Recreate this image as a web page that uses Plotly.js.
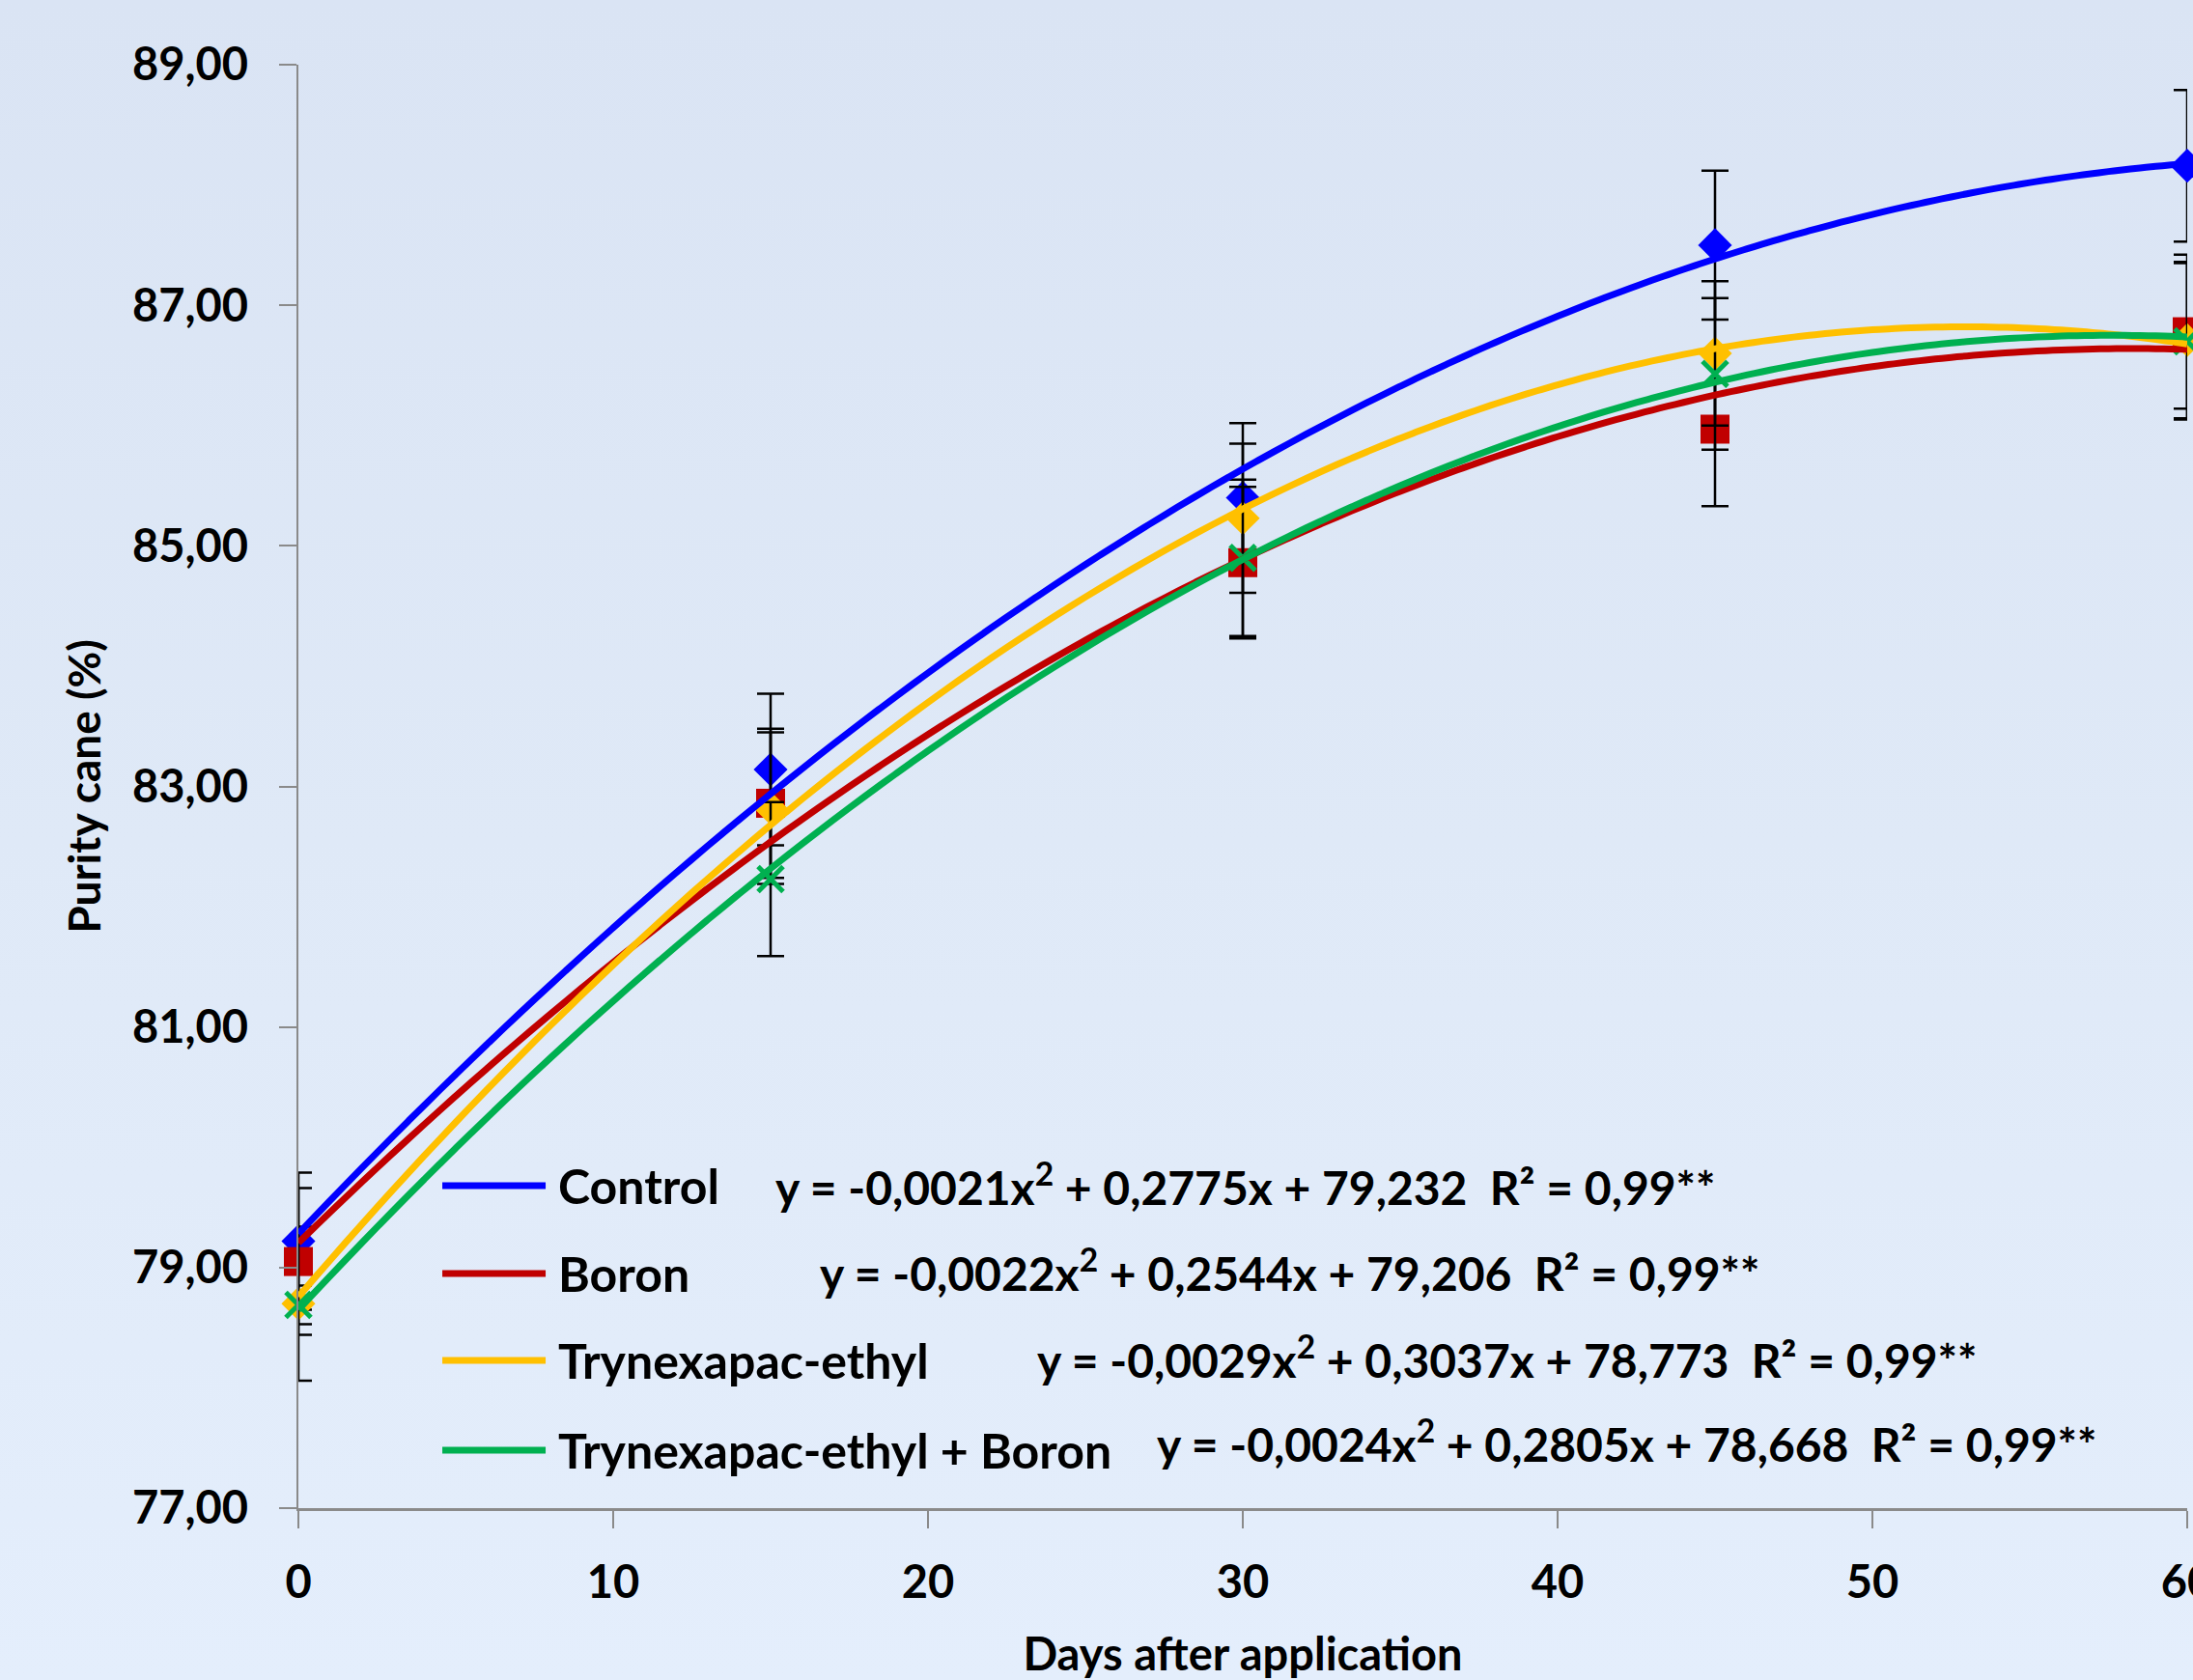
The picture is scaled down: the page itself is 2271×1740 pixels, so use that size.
<!DOCTYPE html>
<html>
<head>
<meta charset="utf-8">
<script src="https://cdn.plot.ly/plotly-3.0.1.min.js"></script>
<style>
  html, body { margin: 0; padding: 0; }
  body { width: 2271px; height: 1740px; overflow: hidden;
         background: linear-gradient(180deg, #dae4f4 0%, #dfe9f7 50%, #e4eefc 100%); }
  #chart { width: 2271px; height: 1740px; }
</style>
</head>
<body>
<div id="chart"></div>
<script>
// ---------------- DATA ----------------
const days = [0, 15, 30, 45, 60];
const seriesNames = ['Control', 'Boron', 'Trynexapac-ethyl', 'Trynexapac-ethyl + Boron'];

const controlValues = [79.22, 83.14, 85.40, 87.50, 88.16];
const controlErrors = [0.57, 0.63, 0.62, 0.62, 0.63];

const boronValues = [79.05, 82.86, 84.86, 85.97, 86.78];
const boronErrors = [0.61, 0.62, 0.63, 0.64, 0.64];

const trynValues = [78.70, 82.82, 85.23, 86.60, 86.71];
const trynErrors = [0.64, 0.63, 0.62, 0.60, 0.65];

const trynBoronValues = [78.69, 82.23, 84.90, 86.43, 86.70];
const trynBoronErrors = [0.16, 0.64, 0.65, 0.63, 0.65];

const equationLabels = [
  'y = -0,0021x<sup>2</sup> + 0,2775x + 79,232\u00a0\u00a0R² = 0,99**',
  'y = -0,0022x<sup>2</sup> + 0,2544x + 79,206\u00a0\u00a0R² = 0,99**',
  'y = -0,0029x<sup>2</sup> + 0,3037x + 78,773\u00a0\u00a0R² = 0,99**',
  'y = -0,0024x<sup>2</sup> + 0,2805x + 78,668\u00a0\u00a0R² = 0,99**'
];

const xTicks = [0, 10, 20, 30, 40, 50, 60];
const yTicks = [77, 79, 81, 83, 85, 87, 89];

// ---------------- STYLE ----------------
const colors = ['#0000ff', '#c00000', '#ffc000', '#00b050'];
const symbols = ['diamond', 'square', 'diamond', 'x-thin'];
const sizes = [27, 30, 27, 26];

const values = [controlValues, boronValues, trynValues, trynBoronValues];
const errors = [controlErrors, boronErrors, trynErrors, trynBoronErrors];

// Quadratic least-squares fit (like a spreadsheet polynomial trendline)
function quadFit(xs, ys) {
  let s = [0, 0, 0, 0, 0], t = [0, 0, 0];
  for (let i = 0; i < xs.length; i++) {
    let p = 1;
    for (let k = 0; k < 5; k++) { s[k] += p; p *= xs[i]; }
    p = 1;
    for (let k = 0; k < 3; k++) { t[k] += p * ys[i]; p *= xs[i]; }
  }
  const M = [[s[0], s[1], s[2], t[0]], [s[1], s[2], s[3], t[1]], [s[2], s[3], s[4], t[2]]];
  for (let c = 0; c < 3; c++) {
    for (let r = c + 1; r < 3; r++) {
      const f = M[r][c] / M[c][c];
      for (let k = c; k < 4; k++) M[r][k] -= f * M[c][k];
    }
  }
  const sol = [0, 0, 0];
  for (let r = 2; r >= 0; r--) {
    let v = M[r][3];
    for (let k = r + 1; k < 3; k++) v -= M[r][k] * sol[k];
    sol[r] = v / M[r][r];
  }
  return sol; // a + b x + c x^2
}

const traces = [];
for (let i = 0; i < 4; i++) {
  traces.push({
    type: 'scatter', mode: 'markers', x: days, y: values[i], name: seriesNames[i],
    cliponaxis: false, showlegend: false, hoverinfo: 'x+y',
    marker: {
      symbol: symbols[i], size: sizes[i], color: colors[i],
      line: symbols[i] === 'x-thin' ? { width: 5, color: colors[i] } : { width: 0 }
    },
    error_y: { type: 'data', array: errors[i], visible: true, color: '#000000', thickness: 2.5, width: 14 }
  });
}
const xmin = days[0], xmax = days[days.length - 1];
for (let i = 0; i < 4; i++) {
  const co = quadFit(days, values[i]);
  const xs = [], ys = [];
  for (let k = 0; k <= 120; k++) {
    const x = xmin + (xmax - xmin) * k / 120;
    xs.push(x); ys.push(co[0] + co[1] * x + co[2] * x * x);
  }
  traces.push({
    type: 'scatter', mode: 'lines', x: xs, y: ys, name: seriesNames[i],
    showlegend: false, hoverinfo: 'skip',
    line: { color: colors[i], width: 7, shape: 'spline' }
  });
}

const rowY = [0.2234, 0.1625, 0.1023, 0.0401];
const eqX = [0.2515, 0.2751, 0.3901, 0.4535];
const eqY = [0.2241, 0.1652, 0.1050, 0.0468];
const shapes = [], annotations = [];
for (let i = 0; i < 4; i++) {
  shapes.push({ type: 'line', xref: 'paper', yref: 'paper', x0: 0.0762, x1: 0.1309, y0: rowY[i], y1: rowY[i],
                line: { color: colors[i], width: 7 } });
  annotations.push({ xref: 'paper', yref: 'paper', x: 0.1365, y: rowY[i], xanchor: 'left', yanchor: 'middle',
                     text: seriesNames[i], showarrow: false, font: { size: 50, color: '#000', weight: 'bold' } });
  annotations.push({ xref: 'paper', yref: 'paper', x: eqX[i], y: eqY[i], xanchor: 'left', yanchor: 'middle',
                     text: equationLabels[i], showarrow: false, font: { size: 48, color: '#000', weight: 'bold' } });
}

const layout = {
  width: 2271, height: 1740,
  margin: { l: 309, r: 6, t: 67, b: 178, pad: 0 },
  paper_bgcolor: 'rgba(0,0,0,0)', plot_bgcolor: 'rgba(0,0,0,0)',
  separators: ',.',
  showlegend: false,
  font: { family: 'Lato, "Open Sans", sans-serif', color: '#000', size: 47, weight: 'bold' },
  xaxis: {
    range: [0, 60], tickvals: xTicks, ticktext: xTicks.map(String),
    ticks: 'outside', ticklen: 18, tickwidth: 2, tickcolor: '#8a8a8a',
    showline: true, linecolor: '#8a8a8a', linewidth: 2.5,
    showgrid: false, zeroline: false, automargin: false,
    ticklabeloverflow: 'allow',
    tickfont: { size: 47, weight: 'bold' }, ticklabelstandoff: 16,
    title: { text: 'Days after application', font: { size: 47, weight: 'bold' }, standoff: 42 }
  },
  yaxis: {
    range: [77, 89], tickvals: yTicks, tickformat: '.2f',
    ticks: 'outside', ticklen: 18, tickwidth: 2, tickcolor: '#8a8a8a',
    showline: true, linecolor: '#8a8a8a', linewidth: 2.5,
    showgrid: false, zeroline: false, automargin: false,
    ticklabeloverflow: 'allow',
    tickfont: { size: 47, weight: 'bold' }, ticklabelstandoff: 22,
    title: { text: 'Purity cane (%)', font: { size: 46, weight: 'bold' }, standoff: 18 }
  },
  shapes: shapes,
  annotations: annotations
};

Plotly.newPlot('chart', traces, layout, { displayModeBar: false, staticPlot: true });
</script>
</body>
</html>
